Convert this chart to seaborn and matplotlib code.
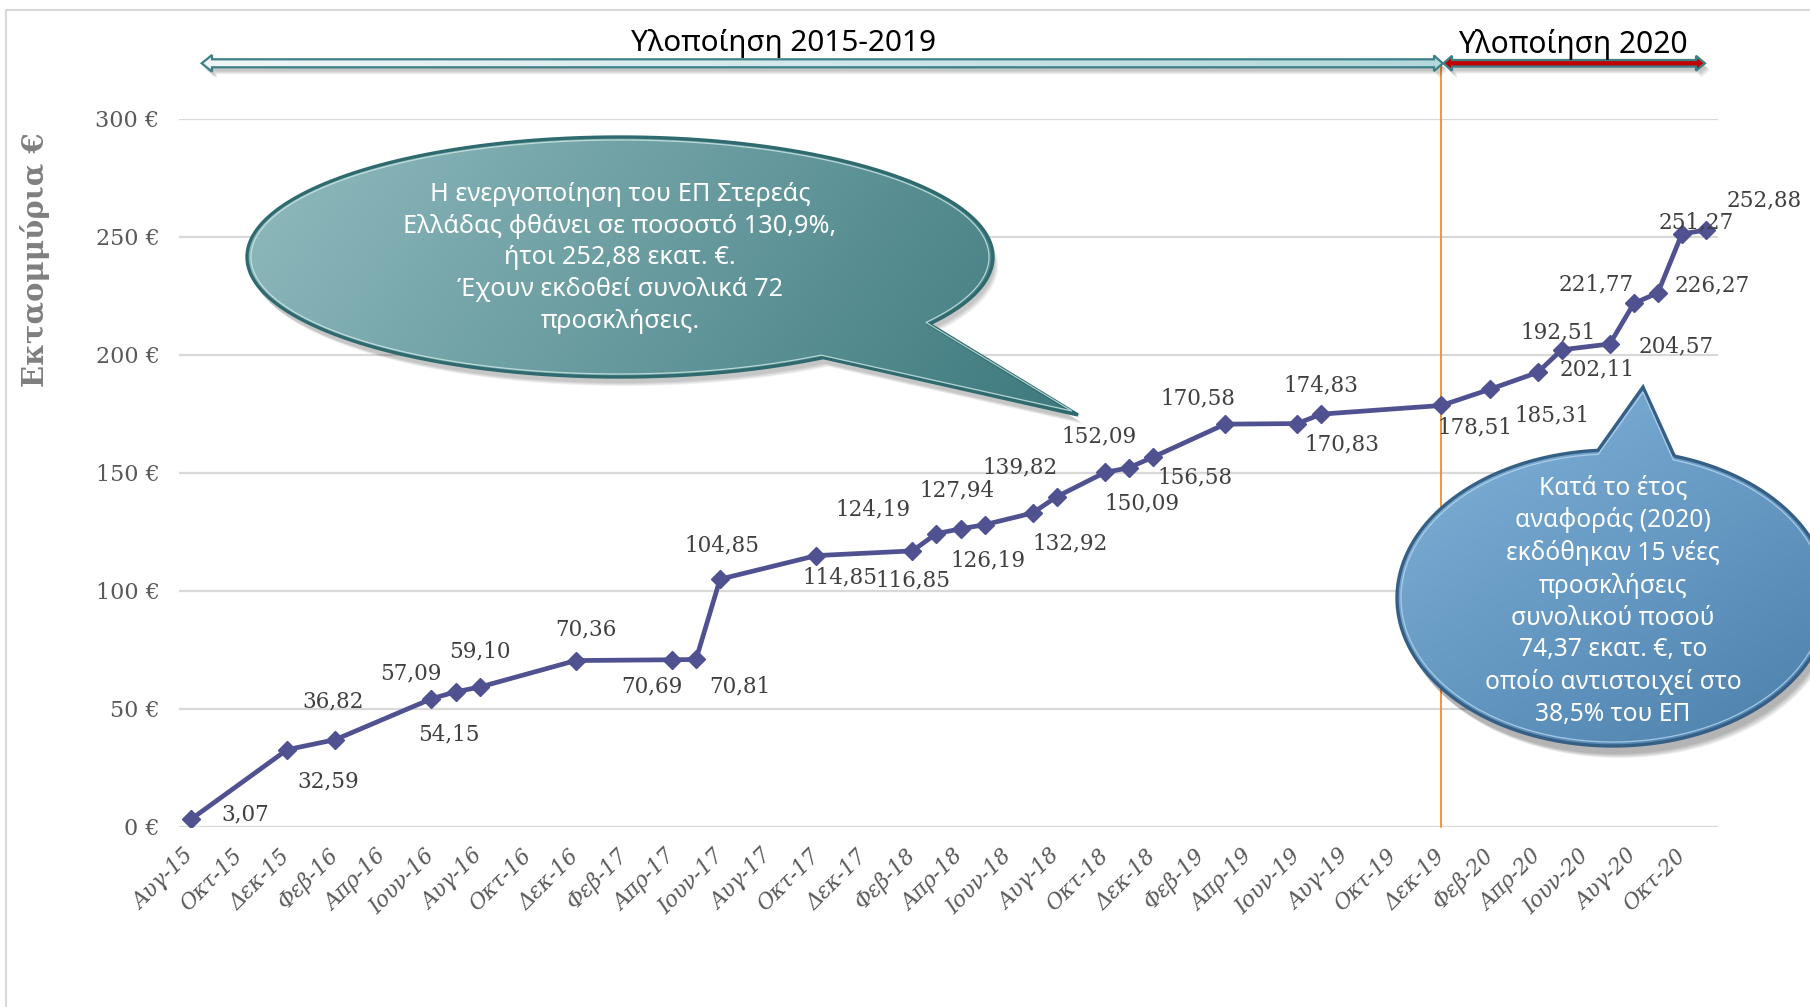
import numpy as np
import pandas as pd
import matplotlib
matplotlib.use("Agg")
import matplotlib.pyplot as plt
import seaborn as sns
from matplotlib.patches import Polygon
from matplotlib.colors import to_rgb

# ---------------- data ----------------
point_months = ["2015-08", "2015-12", "2016-02", "2016-06", "2016-07", "2016-08", "2016-12",
                "2017-04", "2017-05", "2017-06", "2017-10", "2018-02", "2018-03", "2018-04",
                "2018-05", "2018-07", "2018-08", "2018-10", "2018-11", "2018-12", "2019-03",
                "2019-06", "2019-07", "2019-12", "2020-02", "2020-04", "2020-05", "2020-07",
                "2020-08", "2020-09", "2020-10", "2020-11"]
values = [3.07, 32.59, 36.82, 54.15, 57.09, 59.10, 70.36,
          70.69, 70.81, 104.85, 114.85, 116.85, 124.19, 126.19,
          127.94, 132.92, 139.82, 150.09, 152.09, 156.58, 170.58,
          170.83, 174.83, 178.51, 185.31, 192.51, 202.11, 204.57,
          221.77, 226.27, 251.27, 252.88]
tick_labels = ["Αυγ-15", "Οκτ-15", "Δεκ-15", "Φεβ-16", "Απρ-16", "Ιουν-16", "Αυγ-16", "Οκτ-16",
               "Δεκ-16", "Φεβ-17", "Απρ-17", "Ιουν-17", "Αυγ-17", "Οκτ-17", "Δεκ-17", "Φεβ-18",
               "Απρ-18", "Ιουν-18", "Αυγ-18", "Οκτ-18", "Δεκ-18", "Φεβ-19", "Απρ-19", "Ιουν-19",
               "Αυγ-19", "Οκτ-19", "Δεκ-19", "Φεβ-20", "Απρ-20", "Ιουν-20", "Αυγ-20", "Οκτ-20"]
y_ticks = [0, 50, 100, 150, 200, 250, 300]
split_month = "2019-12"

title_left = "Υλοποίηση 2015-2019"
title_right = "Υλοποίηση 2020"
y_title = "Εκταομμύρια €"
note_left = ("Η ενεργοποίηση του ΕΠ Στερεάς\nΕλλάδας φθάνει σε ποσοστό 130,9%,\n"
             "ήτοι 252,88 εκατ. €.\nΈχουν εκδοθεί συνολικά 72\nπροσκλήσεις.")
note_right = ("Κατά το έτος\nαναφοράς (2020)\nεκδόθηκαν 15 νέες\nπροσκλήσεις\n"
              "συνολικού ποσού\n74,37 εκατ. €, το\nοποίο αντιστοιχεί στο\n38,5% του ΕΠ")

# label offsets in pixels (dx, dy up) - styling only
label_offsets = [(54, 5), (41, -32), (-2, 38), (17, -36), (-45, 18), (0, 36), (10, 31),
                 (-20, -27), (44, -27), (2, 34), (24, -22), (1, -30), (-63, 24), (27, -32),
                 (-28, 34), (37, -30), (-37, 29), (37, -31), (-30, 31), (42, -20), (-27, 26),
                 (45, -21), (0, 29), (33, -22), (62, -26), (20, 40), (35, -20), (66, -2),
                 (-38, 19), (54, 7), (14, 11), (58, 30)]


def month_index(s):
    y, m = s.split("-")
    return (int(y) - 2015) * 12 + int(m) - 8


df = pd.DataFrame({"idx": [month_index(s) for s in point_months], "value": values})
labels = [f"{v:.2f}".replace(".", ",") for v in values]

# ---------------- style ----------------
sns.set_theme(style="white")
plt.rcParams["font.family"] = ["DejaVu Serif"]

W, H = 1810, 1007
fig = plt.figure(figsize=(W / 100, H / 100), dpi=100)
fig.patch.set_facecolor("white")

ax_l, ax_r, ax_t, ax_b = 179, 1718, 118.9, 826.5
ax = fig.add_axes([ax_l / W, 1 - ax_b / H, (ax_r - ax_l) / W, (ax_b - ax_t) / H])

line_color = "#4f5190"
sns.lineplot(data=df, x="idx", y="value", ax=ax, color=line_color, linewidth=3.4,
             marker="D", markersize=9, markeredgecolor=line_color, markeredgewidth=1,
             zorder=4)

ax.set_xlim(-0.5, 63.5)
ax.set_ylim(0, 300)
ax.set_yticks(y_ticks)
ax.set_yticklabels([f"{v} €" for v in y_ticks], fontsize=16, color="#595959")
ax.set_xticks(list(range(0, 64, 2)))
ax.set_xticklabels(tick_labels, rotation=45, ha="right", va="center",
                   rotation_mode="anchor", fontsize=15.5, color="#595959", style="italic")
ax.tick_params(axis="y", length=0, pad=14)
ax.tick_params(axis="x", length=0, pad=19)
ax.set_xlabel("")
ax.set_ylabel("")
for s in ax.spines.values():
    s.set_visible(False)
ax.grid(axis="y", color="#d9d9d9", linewidth=1.6)
ax.grid(axis="x", visible=False)
ax.set_axisbelow(True)

for x, v, lab, (dx, dy) in zip(df["idx"], df["value"], labels, label_offsets):
    ax.annotate(lab, (x, v), xytext=(dx, dy), textcoords="offset pixels",
                ha="center", va="center", fontsize=15.5, color="#404040", zorder=5)

# split line
sx = month_index(split_month)
ax.axvline(sx, ymin=0, ymax=(ax_b - 62) / (ax_b - ax_t), color="#f0963c",
           linewidth=1.4, clip_on=False, zorder=3)

# ---------------- overlay (pixel coords) ----------------
ov = fig.add_axes([0, 0, 1, 1], zorder=10)
ov.patch.set_alpha(0)
ov.axis("off")


def gradient_fill(patch, c1, c2, direction, extent, z):
    x0, x1, y0, y1 = extent
    X, Y = np.meshgrid(np.linspace(0, 1, 200), np.linspace(0, 1, 200))
    t = X * direction[0] + Y * direction[1]
    t = (t - t.min()) / (t.max() - t.min())
    a = np.array(to_rgb(c1)); b = np.array(to_rgb(c2))
    img = a[None, None, :] * (1 - t[..., None]) + b[None, None, :] * t[..., None]
    im = ov.imshow(img, extent=(x0, x1, y1, y0), origin="upper", aspect="auto",
                   interpolation="bilinear", zorder=z)
    im.set_clip_path(patch)


def callout(cx, cy, a, b, t1, t2, tip, n=400):
    ts = np.radians(np.linspace(t2, t1 + 360, n))
    pts = np.column_stack([cx + a * np.cos(ts), cy + b * np.sin(ts)])
    return np.vstack([pts, [tip]])


def shadow(pts, dx, dy, z, layers=4, alpha=0.06):
    for k in range(layers):
        p = pts + np.array([dx + k, dy + k])
        ov.add_patch(Polygon(p, closed=True, facecolor="black", edgecolor="none",
                             alpha=alpha, zorder=z))


# figure frame
ov.plot([6, 6], [10, H], color="#d9d9d9", lw=1.5, zorder=1)
ov.plot([6, W], [10, 10], color="#d9d9d9", lw=1.5, zorder=1)

sans = ["Noto Sans", "DejaVu Sans"]

# callout 1 (teal)
c1 = callout(620, 257, 373, 120, 34, 57, (1078, 415))
shadow(c1, 2, 6, 2)
p1 = Polygon(c1, closed=True, facecolor="none", edgecolor="#2e6a6e", lw=2.4, zorder=4)
ov.add_patch(p1)
gradient_fill(p1, "#92bcc0", "#3c787c", (1.0, 0.25), (240, 1085, 130, 420), 3)
ov.add_patch(Polygon(callout(620, 257, 369, 117, 34, 57, (1072, 411)), closed=True,
                     facecolor="none", edgecolor="#cfe8e8", lw=0.9, alpha=0.8, zorder=4))
ov.text(620, 258, note_left, ha="center", va="center", color="white",
        fontsize=18.2, family=sans, linespacing=1.36, zorder=6)

# callout 2 (blue)
c2 = callout(1613, 598, 216, 148, 266, 286.5, (1643, 387))
shadow(c2, 3, 8, 2, layers=5, alpha=0.065)
p2 = Polygon(c2, closed=True, facecolor="none", edgecolor="#365f86", lw=2.4, zorder=4)
ov.add_patch(p2)
gradient_fill(p2, "#84b5dc", "#4a7fab", (0.6, 0.8), (1390, 1835, 380, 752), 3)
ov.add_patch(Polygon(callout(1613, 598, 212, 144, 266, 286.5, (1643, 392)), closed=True,
                     facecolor="none", edgecolor="#b9d6ee", lw=0.9, alpha=0.8, zorder=4))
ov.text(1613, 601, note_right, ha="center", va="center", color="white",
        fontsize=17.7, family=sans, linespacing=1.35, zorder=6)

# top arrows
yc = 63.3
arr1 = np.array([(201.7, yc), (212, yc - 8.3), (212, yc - 4), (1434, yc - 4), (1434, yc - 7.8),
                 (1442.7, yc), (1434, yc + 7.8), (1434, yc + 4), (212, yc + 4), (212, yc + 8.3)])
shadow(arr1, 2, 4, 2)
pa1 = Polygon(arr1, closed=True, facecolor="none", edgecolor="#3d8087", lw=1.6, zorder=4)
ov.add_patch(pa1)
gradient_fill(pa1, "#f0f7f8", "#b3d8db", (1.0, 0.0), (200, 1445, 54, 73), 3)

arr2 = np.array([(1443.5, yc), (1452, yc - 7.5), (1452, yc - 3.3), (1696, yc - 3.3),
                 (1696, yc - 7.5), (1705, yc), (1696, yc + 7.5), (1696, yc + 3.3),
                 (1452, yc + 3.3), (1452, yc + 7.5)])
shadow(arr2, 2, 4, 2)
ov.add_patch(Polygon(arr2, closed=True, facecolor="#c00000", edgecolor="#3d8087",
                     lw=1.6, zorder=4))

ov.text(783, 44, title_left, ha="center", va="center", color="black", fontsize=21.4,
        family=sans, zorder=6)
ov.text(1573, 45, title_right, ha="center", va="center", color="black", fontsize=21.6,
        family=sans, zorder=6)

ov.text(35, 260, y_title, ha="center", va="center", rotation=90, color="#7f7f7f",
        fontsize=21, fontweight="bold", family=["DejaVu Serif"], zorder=6)

ov.set_xlim(0, W)
ov.set_ylim(H, 0)

fig.savefig("out.png", dpi=100, facecolor="white")
